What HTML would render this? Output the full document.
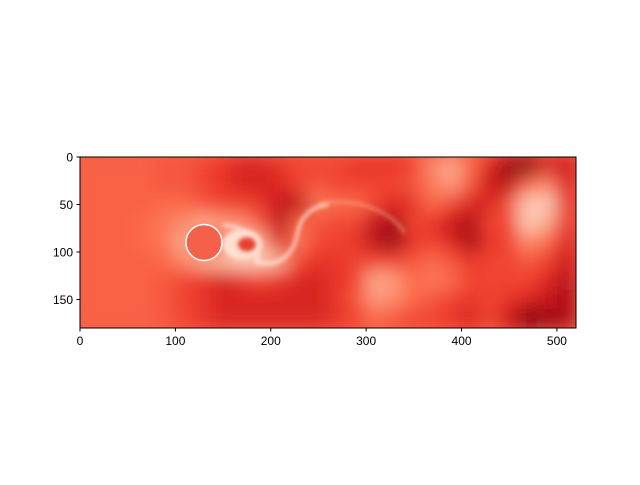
<!DOCTYPE html>
<html><head><meta charset="utf-8"><style>
body{margin:0;background:#fff;font-family:"Liberation Sans",sans-serif;}
svg text{font-family:"Liberation Sans",sans-serif;font-size:12px;fill:#000;}
</style></head><body>
<svg id="chart" width="640" height="480">
<defs>
<clipPath id="axclip"><rect x="80" y="157" width="496" height="171"/></clipPath>
<filter id="blur" x="80" y="157" width="496" height="171" filterUnits="userSpaceOnUse"><feGaussianBlur stdDeviation="9" edgeMode="duplicate"/></filter>
<filter id="sblur" x="0" y="0" width="640" height="480" filterUnits="userSpaceOnUse"><feGaussianBlur stdDeviation="2"/></filter>
</defs>
<g id="plot" clip-path="url(#axclip)">
<rect x="80" y="157" width="496" height="171" fill="#f5604a"/>
<g id="cells" filter="url(#blur)"></g>
<g id="overlay"></g>
</g>
<rect x="80" y="157" width="496" height="171" fill="none" stroke="#000" stroke-width="1"/>
<g id="axes"></g>
</svg>
<script>
const xEdges=[0,520], yEdges=[0,180];
const xTicks=[0,100,200,300,400,500];
const yTicks=[0,50,100,150];
const cellSize=20;
const grid=[
[0.52,0.52,0.52,0.52,0.55,0.55,0.6,0.65,0.7,0.7,0.65,0.6,0.6,0.6,0.65,0.65,0.65,0.6,0.4,0.3,0.5,0.7,0.9,0.95,0.7,0.75],
[0.52,0.52,0.52,0.52,0.55,0.55,0.6,0.65,0.7,0.7,0.7,0.6,0.55,0.6,0.6,0.6,0.6,0.55,0.45,0.35,0.55,0.75,0.8,0.5,0.4,0.7],
[0.52,0.52,0.52,0.52,0.5,0.5,0.55,0.6,0.6,0.65,0.75,0.8,0.45,0.5,0.5,0.6,0.7,0.65,0.5,0.6,0.7,0.7,0.55,0.2,0.2,0.65],
[0.52,0.52,0.52,0.5,0.45,0.4,0.3,0.35,0.4,0.55,0.8,0.5,0.55,0.6,0.6,0.8,0.85,0.6,0.65,0.75,0.85,0.6,0.6,0.2,0.3,0.65],
[0.52,0.52,0.52,0.5,0.45,0.3,0.5,0.5,0.15,0.3,0.7,0.45,0.6,0.6,0.65,0.8,0.9,0.65,0.6,0.7,0.85,0.65,0.6,0.4,0.5,0.7],
[0.52,0.52,0.52,0.52,0.5,0.4,0.3,0.25,0.2,0.2,0.3,0.6,0.65,0.65,0.6,0.6,0.6,0.55,0.5,0.55,0.65,0.6,0.6,0.55,0.6,0.75],
[0.52,0.52,0.52,0.52,0.55,0.6,0.65,0.7,0.65,0.6,0.65,0.7,0.7,0.65,0.6,0.3,0.35,0.5,0.45,0.5,0.6,0.6,0.6,0.6,0.7,0.8],
[0.52,0.52,0.52,0.52,0.55,0.6,0.65,0.7,0.7,0.7,0.7,0.7,0.7,0.65,0.55,0.35,0.4,0.5,0.55,0.6,0.65,0.6,0.65,0.7,0.75,0.85],
[0.52,0.52,0.52,0.52,0.55,0.6,0.65,0.7,0.7,0.7,0.7,0.7,0.7,0.65,0.6,0.5,0.55,0.6,0.6,0.65,0.7,0.6,0.75,0.95,0.9,0.85]
];
const NS="http://www.w3.org/2000/svg";
const X0=80,X1=576,Y0=157,Y1=328;
const sx=v=>X0+(v-xEdges[0])/(xEdges[1]-xEdges[0])*(X1-X0);
const sy=v=>Y0+(v-yEdges[0])/(yEdges[1]-yEdges[0])*(Y1-Y0);
const stops=[[255,245,240],[254,224,210],[252,187,161],[252,146,114],[251,106,74],[239,59,44],[203,24,29],[165,15,21],[103,0,13]];
function reds(t){t=Math.max(0,Math.min(1,t))*(stops.length-1);const i=Math.min(Math.floor(t),stops.length-2),f=t-i;
const c=stops[i].map((a,k)=>Math.round(a+(stops[i+1][k]-a)*f));return `rgb(${c})`;}
function mk(tag,attrs,parent){const e=document.createElementNS(NS,tag);for(const k in attrs)e.setAttribute(k,attrs[k]);parent.appendChild(e);return e;}
const cells=document.getElementById('cells');
grid.forEach((row,r)=>row.forEach((v,c)=>{
 const x=sx(c*cellSize),y=sy(r*cellSize);
 const el=mk('rect',{x:x-0.5,y:y-0.5,width:sx((c+1)*cellSize)-x+1,height:sy((r+1)*cellSize)-y+1,fill:reds(v)},cells);
 
 
}));
const ov=document.getElementById('overlay');
const arc=mk('path',{d:`M${sx(250)},${sy(50)} C${sx(290)},${sy(40)} ${sx(330)},${sy(60)} ${sx(340)},${sy(80)}`,fill:'none',stroke:'#fcbba1',"stroke-width":3,opacity:0.5,filter:'url(#sblur)'},ov);


const streak=mk('path',{d:`M${sx(150)},${sy(72)} C${sx(175)},${sy(70)} ${sx(190)},${sy(100)} ${sx(185)},${sy(110)} C${sx(210)},${sy(118)} ${sx(225)},${sy(100)} ${sx(228)},${sy(80)} C${sx(232)},${sy(60)} ${sx(245)},${sy(52)} ${sx(260)},${sy(50)}`,fill:'none',stroke:'#fff',"stroke-width":3.5,opacity:0.65,filter:'url(#sblur)'},ov);


const wake=mk('ellipse',{cx:sx(170),cy:sy(92),rx:20,ry:15,fill:'#fde0d2',filter:'url(#sblur)'},ov);


const wcore=mk('ellipse',{cx:sx(175),cy:sy(92),rx:9,ry:7,fill:'#e8402f',filter:'url(#sblur)'},ov);


const cyl=mk('circle',{cx:sx(130),cy:sy(90),r:18,fill:'#f5604a',stroke:'#fff',"stroke-width":1.5},ov);


const ax=document.getElementById('axes');
xTicks.forEach(t=>{const x=sx(t);
 const l=mk('line',{x1:x,x2:x,y1:Y1,y2:Y1+3.5,stroke:'#000'},ax);
 
 
 const tx=mk('text',{x:x,y:Y1+17,"text-anchor":"middle"},ax);tx.textContent=t;
 
 
});
yTicks.forEach(t=>{const y=sy(t);
 const l=mk('line',{x1:X0-3.5,x2:X0,y1:y,y2:y,stroke:'#000'},ax);
 
 
 const tx=mk('text',{x:X0-7,y:y+4.5,"text-anchor":"end"},ax);tx.textContent=t;
 
 
});
</script>
</body></html>
